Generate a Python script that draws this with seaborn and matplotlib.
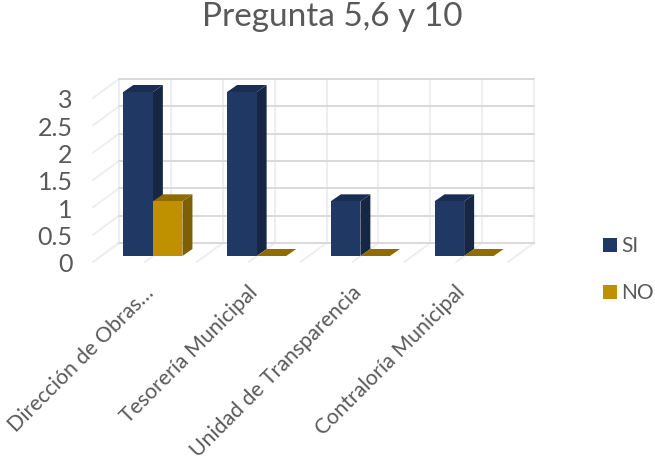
import matplotlib
matplotlib.use("Agg")
import matplotlib.pyplot as plt
from matplotlib.patches import Polygon, Patch
from matplotlib.transforms import ScaledTranslation
import numpy as np
import pandas as pd
import seaborn as sns

categories = ["Dirección de Obras…", "Tesorería Municipal", "Unidad de Transparencia", "Contraloría Municipal"]
si_values = [3, 3, 1, 1]
no_values = [1, 0, 0, 0]
y_ticks = [0, 0.5, 1, 1.5, 2, 2.5, 3]
y_labels = ["0", "0.5", "1", "1.5", "2", "2.5", "3"]

sns.set_theme(style="white")
plt.rcParams["font.family"] = ["Lato", "DejaVu Sans"]
TXT = "#595959"

W, H = 655, 466
fig = plt.figure(figsize=(W / 100, H / 100), dpi=100)
L, R, T, B = 101, 516, 92, 256
ax = fig.add_axes([L / W, 1 - B / H, (R - L) / W, (B - T) / H])

df = pd.DataFrame({
    "cat": categories * 2,
    "serie": ["SI"] * 4 + ["NO"] * 4,
    "val": si_values + no_values,
})
sns.barplot(data=df, x="cat", y="val", hue="serie", hue_order=["SI", "NO"],
            palette=["#1F3864", "#BF9000"], width=0.57, gap=0, saturation=1,
            ax=ax, legend=False, zorder=3, linewidth=0, edgecolor="none")
ax.set_xlim(-0.5, 3.5)
ax.set_ylim(0, 3)
sx, sy = (R - L) / 4, (B - T) / 3
for s in ax.spines.values():
    s.set_visible(False)
ax.set_xlabel("")
ax.set_ylabel("")

# Walls
bx, by = 18 / sx, 13 / sy       # back wall offset
fx, fy = -8 / sx, -6 / sy       # front edge offset
xg = np.arange(-0.5, 3.51, 0.5)
HC, VC = "#d9d9d9", "#eeeeee"
for v in xg:
    ax.plot([v + bx, v + bx], [by, 3 + by], color=VC, lw=1.4, clip_on=False, zorder=1)
    ax.plot([v + bx, v + fx], [by, fy], color=VC, lw=1.4, clip_on=False, zorder=1)
for v in y_ticks:
    ax.plot([-0.5 + bx, 3.5 + bx], [v + by, v + by], color=HC, lw=1.4, clip_on=False, zorder=1.5)
    ax.plot([-0.5 + bx, -0.5 + fx], [v + by, v + fy], color=VC, lw=1.4, clip_on=False, zorder=1)

# Depth of the bars
dx, dy = 10 / sx, 7 / sy
shade = {"#1F3864": ("#152744", "#1A2E54"), "#BF9000": ("#7F6000", "#8F6C00")}
bars = [p for p in ax.patches if p.get_width() > 0]
for p in bars:
    x0, w, h = p.get_x(), p.get_width(), p.get_height()
    key = matplotlib.colors.to_hex(p.get_facecolor()).upper()
    side, top = shade[key]
    ax.add_patch(Polygon([(x0 + w, 0), (x0 + w + dx, dy), (x0 + w + dx, h + dy), (x0 + w, h)],
                         closed=True, fc=side, ec="none", clip_on=False, zorder=2.5))
    ax.add_patch(Polygon([(x0, h), (x0 + dx, h + dy), (x0 + w + dx, h + dy), (x0 + w, h)],
                         closed=True, fc=top, ec="none", clip_on=False, zorder=2.6))
    p.set_clip_on(False)
for p in bars:
    if matplotlib.colors.to_hex(p.get_facecolor()).upper() == "#BF9000":
        p.set_zorder(4)

# Ticks
ax.set_yticks(y_ticks, y_labels)
ax.tick_params(axis="y", left=False, pad=14.5, labelsize=18, labelcolor=TXT)
ax.set_xticks(range(4), categories)
ax.tick_params(axis="x", bottom=False, pad=0, labelsize=15.3, labelcolor=TXT)
off_y = ScaledTranslation(0, -7 / 100, fig.dpi_scale_trans)
for t in ax.get_yticklabels():
    t.set_transform(t.get_transform() + off_y)
off_x = ScaledTranslation(-9 / 100, -18 / 100, fig.dpi_scale_trans)
for t in ax.get_xticklabels():
    t.set_rotation(45)
    t.set_ha("right")
    t.set_va("top")
    t.set_rotation_mode("anchor")
    t.set_transform(t.get_transform() + off_x)

fig.text(332 / W, 1 - 17 / H, "Pregunta 5,6 y 10", ha="center", va="center", fontsize=24, color=TXT)

handles = [Patch(fc="#1F3864", ec="none", label="SI"), Patch(fc="#BF9000", ec="none", label="NO")]
fig.legend(handles=handles, loc="center left", bbox_to_anchor=(603 / W, 1 - 269.5 / H), frameon=False,
           fontsize=15, labelcolor=TXT, handlelength=0.67, handleheight=0.67,
           handletextpad=0.2, labelspacing=1.3, borderpad=0, borderaxespad=0)

fig.savefig("out.png", dpi=100, facecolor="white")
